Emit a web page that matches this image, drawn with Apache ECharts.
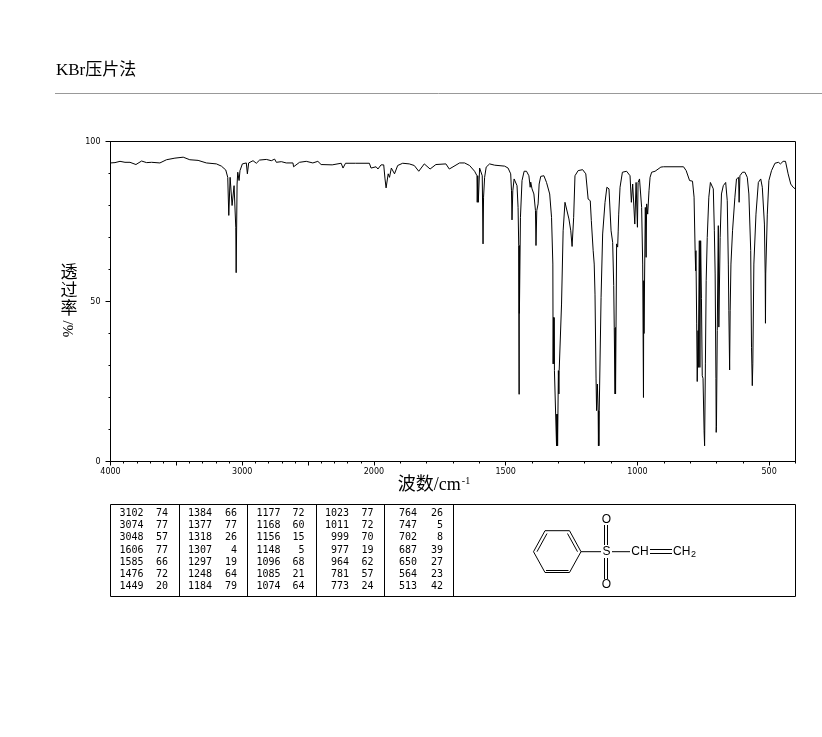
<!DOCTYPE html>
<html><head><meta charset="utf-8">
<style>html,body{margin:0;padding:0;background:#fff}#c{width:822px;height:737px}</style>
<script src="https://cdn.jsdelivr.net/npm/echarts@6/dist/echarts.min.js"></script>
</head><body><div id="c"></div>
<script>
const wavenumbers = [4000,3966,3928,3890,3852,3807,3764,3726,3688,3625,3575,3511,3448,3398,3335,3272,3196,3158,3125,3110,3102,3092,3077,3062,3049,3046,3039,3034,3024,3017,2999,2969,2961,2951,2918,2893,2868,2817,2779,2754,2741,2703,2666,2615,2610,2565,2514,2464,2426,2401,2317,2304,2249,2235,2216,2140,2035,2022,1992,1985,1973,1963,1958,1954,1946,1941,1934,1922,1910,1891,1866,1847,1830,1809,1787,1765,1727,1714,
1675,1656,1637,1618,1609,1608,1606,1604,1599,1593,1589,1586,1584,1580,1574,1561,1542,1504,1491,1481,1478,1476,1473,1468,1463,1457,1453,1450.5,1449,1448.5,1448,1444,1438,1430,1421,1412,1407,1405,1400,1393,1387,1385,1382,1377,1373,1367,1355,1345,1333,1326,1321,1320,1318.5,1317,1316,1315,1311,1307,1306,1305,1304,1303,1300,1298,1297,1293,1288,1282,1275,1269,1260,1253,1248,1242,1237,1225,1208,1196,1187,1179,1175,1168,1164,1161,1157,1155,1152,1149,1148,1147,1146,1145,1142,1138,1132,1123,1116,1108,1100,1094,1090,1088,1085,1084,1083,1079,1075,1073,1071,1066,1057,1041,1028,
1023,1018,1014,1010,1005,1000,997.5,992,987,984,980,977,976,975,970,967,965,961,956,952,946,933,911,901,825,815,802,791,785,781,779,778,775,773,770,769,765,763,760,757,754,751,747,745,742,739,735,729,723,717,712,708,705,702,701,700,697,693,691,688,686,681,674,665,659,655,653,650,648,645,639,630,624,616,614,611,601,592,583,577,570,567,564,562,558,550,541,532,526,518,515,514,513,511,507,501,491,478,465,457,447,438,428,418,409,401];
const transmittance = [93.3,93.4,93.8,93.5,93.5,92.8,93.9,93.4,93.5,93.3,94.3,94.8,95.1,94.3,94.1,93.3,93,92.3,91.1,88.8,76.9,88.8,80,86.2,73.2,59,86.7,90.4,87.8,90.9,93,93.3,89.9,93.3,94,93.2,94.2,94.4,94,94.5,93.5,93.7,93.3,93.3,92.1,93.5,93.8,93.3,93.8,92.8,92.7,93.2,93.2,91.7,93.2,93.2,93.2,91.7,92.1,91.4,92.7,92.7,88.3,85.5,89.9,88.8,91.7,89.9,92.5,93.2,93,92.5,90.7,93,91.4,92.8,93,91.4,
93.3,93.3,92.5,90.7,89.3,81,89.3,81,91.7,92,89.3,68,82.6,88.8,92,93,92.6,92.3,91.7,89.9,84.6,75.5,84.6,88.3,88.8,86.2,79.4,67.5,21,67.5,46.3,76.3,87.8,90.7,90.7,89.3,85.7,87.3,85.2,83.6,78.4,67.5,78.4,80.5,86.7,89.1,89.3,87.2,83.6,76.3,61.7,30.5,45,30.5,45,28.4,27.9,4.9,14.8,4.9,14.8,4.9,28.4,21.1,28.4,28.4,49.2,72.1,81,81.5,75.8,72.1,67.2,76.3,89.3,90.9,91.2,89.9,82,81.5,75.3,65.9,61.7,52.3,25.8,15.9,24.2,15.9,4.9,15.9,4.9,15.9,15.9,51.3,71.1,81,85.7,85.2,72.1,68.5,55,41.9,21.1,41.9,21.1,68,67,72,77.3,85.7,90.4,90.7,89.3,
81,86.7,86.2,74.2,87.2,73.2,87.2,88.3,87.8,79.4,61.7,20,56.5,40,79.4,63.8,80.5,77.3,84.6,88.8,90.4,90.7,92,92.1,92.1,90.9,87.8,87.6,82.6,65.9,59.6,65.9,43,25,40.9,29.4,69,29.4,69,51,26.8,26,9.6,4.9,30.5,56.5,70,82.6,87.2,87.8,85.2,72.1,58.6,26,9.1,11,40.9,73.7,42,41.9,70,83.6,86.2,87.2,81.5,61.7,47.1,28.6,47.1,61.7,72.1,82.6,88.3,88.8,81,89.3,90.4,90.4,88.8,83.6,65.9,35.7,23.7,30.5,61.7,77.3,87.2,88.3,85.7,74.2,58.6,43.2,58.6,58.6,77.3,87.8,90.9,93.2,93.5,93,93.8,93.8,89.9,86.7,85.7,85.2];
const tickLabels = [4000,3000,2000,1500,1000,500];
const longTicks = [4000,3500,3000,2500,2000,1500,1000,500];
const shortTicks = [3900,3800,3700,3600,3400,3300,3200,3100,2900,2800,2700,2600,2400,2300,2200,2100,1900,1800,1700,1600,1400,1300,1200,1100,900,800,700,600,400];
const peakWave = [[3102,3074,3048,1606,1585,1476,1449],[1384,1377,1318,1307,1297,1248,1184],[1177,1168,1156,1148,1096,1085,1074],[1023,1011,999,977,964,781,773],[764,747,702,687,650,564,513]];
const peakTrans = [[74,77,57,77,66,72,20],[66,77,26,4,19,64,79],[72,60,15,5,68,21,64],[77,72,70,19,62,57,24],[26,5,8,39,27,23,42]];
const titleText = 'KBr压片法';
const xName = '波数/cm';
const yNameChars = ['透','过','率'];

// The spectrometer's scale doubles below 2000 cm-1
const toAxis = w => w >= 2000 ? w : 2000 - (2000 - w) * 2;
const fromAxis = u => Math.round(u >= 2000 ? u : 2000 - (2000 - u) / 2);

const serifName = '"Liberation Serif","Noto Sans CJK SC",serif';
const mono = '"DejaVu Sans Mono",monospace';
const black = '#000';
const graphics = [];
const line = (x1,y1,x2,y2,stroke=black,w=1) => graphics.push({type:'line',silent:true,shape:{x1,y1,x2,y2},style:{stroke,lineWidth:w}});
const text = (x,y,t,font,align='left',extra={}) => graphics.push(Object.assign({type:'text',silent:true,x,y,style:{text:t,font,fill:black,align,verticalAlign:'middle'}},extra));

// title and rule
text(56,71,titleText,'17px '+serifName);
line(55,93.5,822,93.5,'#999');

// y axis name
yNameChars.forEach((c,i)=>text(69,274+i*18,c,'17px '+serifName,'center'));
text(69,329,'%/','15px '+serifName,'center',{rotation:Math.PI/2});

// peak table
graphics.push({type:'rect',silent:true,shape:{x:110.5,y:504.5,width:685,height:92},style:{fill:'none',stroke:black,lineWidth:1}});
[179.5,247.5,316.5,384.5,453.5].forEach(x=>line(x,504.5,x,596.5));
const waveRight=[143.5,212,280.5,349,417], transRight=[168,237,304.5,373.5,443];
peakWave.forEach((col,c)=>col.forEach((w,r)=>{
  const y=513.3+r*12.25;
  text(waveRight[c],y,String(w),'10px '+mono,'right');
  text(transRight[c],y,String(peakTrans[c][r]),'10px '+mono,'right');
}));

// structure
const ring=[[533.5,551.7],[545,530.7],[569.5,530.7],[581,551.7],[569.5,572.5],[545,572.5]];
ring.forEach((p,i)=>{const q=ring[(i+1)%6];line(p[0],p[1],q[0],q[1]);});
line(537,551.7,547,533.5); line(567.5,533.5,577.5,551.7); line(546,570.5,568.5,570.5);
line(581,551.7,601,551.7); line(612,551.7,630,551.7);
line(604.5,525,604.5,545); line(607.5,525,607.5,545);
line(604.5,558,604.5,579); line(607.5,558,607.5,579);
line(650,549.5,672,549.5); line(650,553.5,672,553.5);
const atom='12px "Liberation Sans",sans-serif';
text(606.5,551.7,'S',atom,'center');
text(606.5,519.5,'O',atom,'center');
text(606.5,584.5,'O',atom,'center');
text(640,552,'CH',atom,'center');
text(673,552,'CH',atom);
text(691,555,'2','9px "Liberation Sans",sans-serif');

const tickBase = {show:true,inside:false,lineStyle:{color:black,width:1}};
const option = {
  animation:false,
  backgroundColor:'#fff',
  grid:{left:110.5,top:141.5,width:685,height:320,show:true,borderColor:black,borderWidth:1,backgroundColor:'transparent'},
  xAxis:[
    {type:'value',inverse:true,min:toAxis(400),max:toAxis(4000),position:'bottom',
     name:'{a|'+xName+'}{b|-1}',nameLocation:'middle',nameGap:14,
     nameTextStyle:{padding:[0,38,0,0],rich:{
       a:{fontSize:18,fontFamily:'Liberation Serif, Noto Sans CJK SC',color:black,verticalAlign:'bottom'},
       b:{fontSize:10,fontFamily:'Liberation Serif',color:black,verticalAlign:'top',padding:[0,0,8,1]}}},
     splitLine:{show:false},
     axisLine:{show:true,onZero:false,lineStyle:{color:black}},
     axisTick:Object.assign({},tickBase,{length:4,customValues:longTicks.map(toAxis)}),
     axisLabel:{show:true,margin:6,fontSize:8,fontFamily:'DejaVu Sans',color:black,
       customValues:tickLabels.map(toAxis),formatter:v=>String(fromAxis(v))}},
    {type:'value',inverse:true,min:toAxis(400),max:toAxis(4000),position:'bottom',
     splitLine:{show:false},axisLine:{show:false},axisLabel:{show:false},
     axisTick:Object.assign({},tickBase,{length:2,customValues:shortTicks.map(toAxis)})}
  ],
  yAxis:{type:'value',min:0,max:100,interval:50,
     splitLine:{show:false},
     axisLine:{show:true,onZero:false,lineStyle:{color:black}},
     axisTick:Object.assign({},tickBase,{length:5}),
     minorTick:{show:true,splitNumber:5,length:2,lineStyle:{color:black,width:1}},
     axisLabel:{margin:10,fontSize:8,fontFamily:'DejaVu Sans',color:black}},
  series:[{type:'line',showSymbol:false,smooth:false,clip:true,
     data:wavenumbers.map((w,i)=>[toAxis(w),transmittance[i]]),
     lineStyle:{color:black,width:1}}],
  graphic:{elements:graphics}
};
const chart = echarts.init(document.getElementById('c'),null,{renderer:'canvas'});
chart.setOption(option);
</script>
</body></html>
